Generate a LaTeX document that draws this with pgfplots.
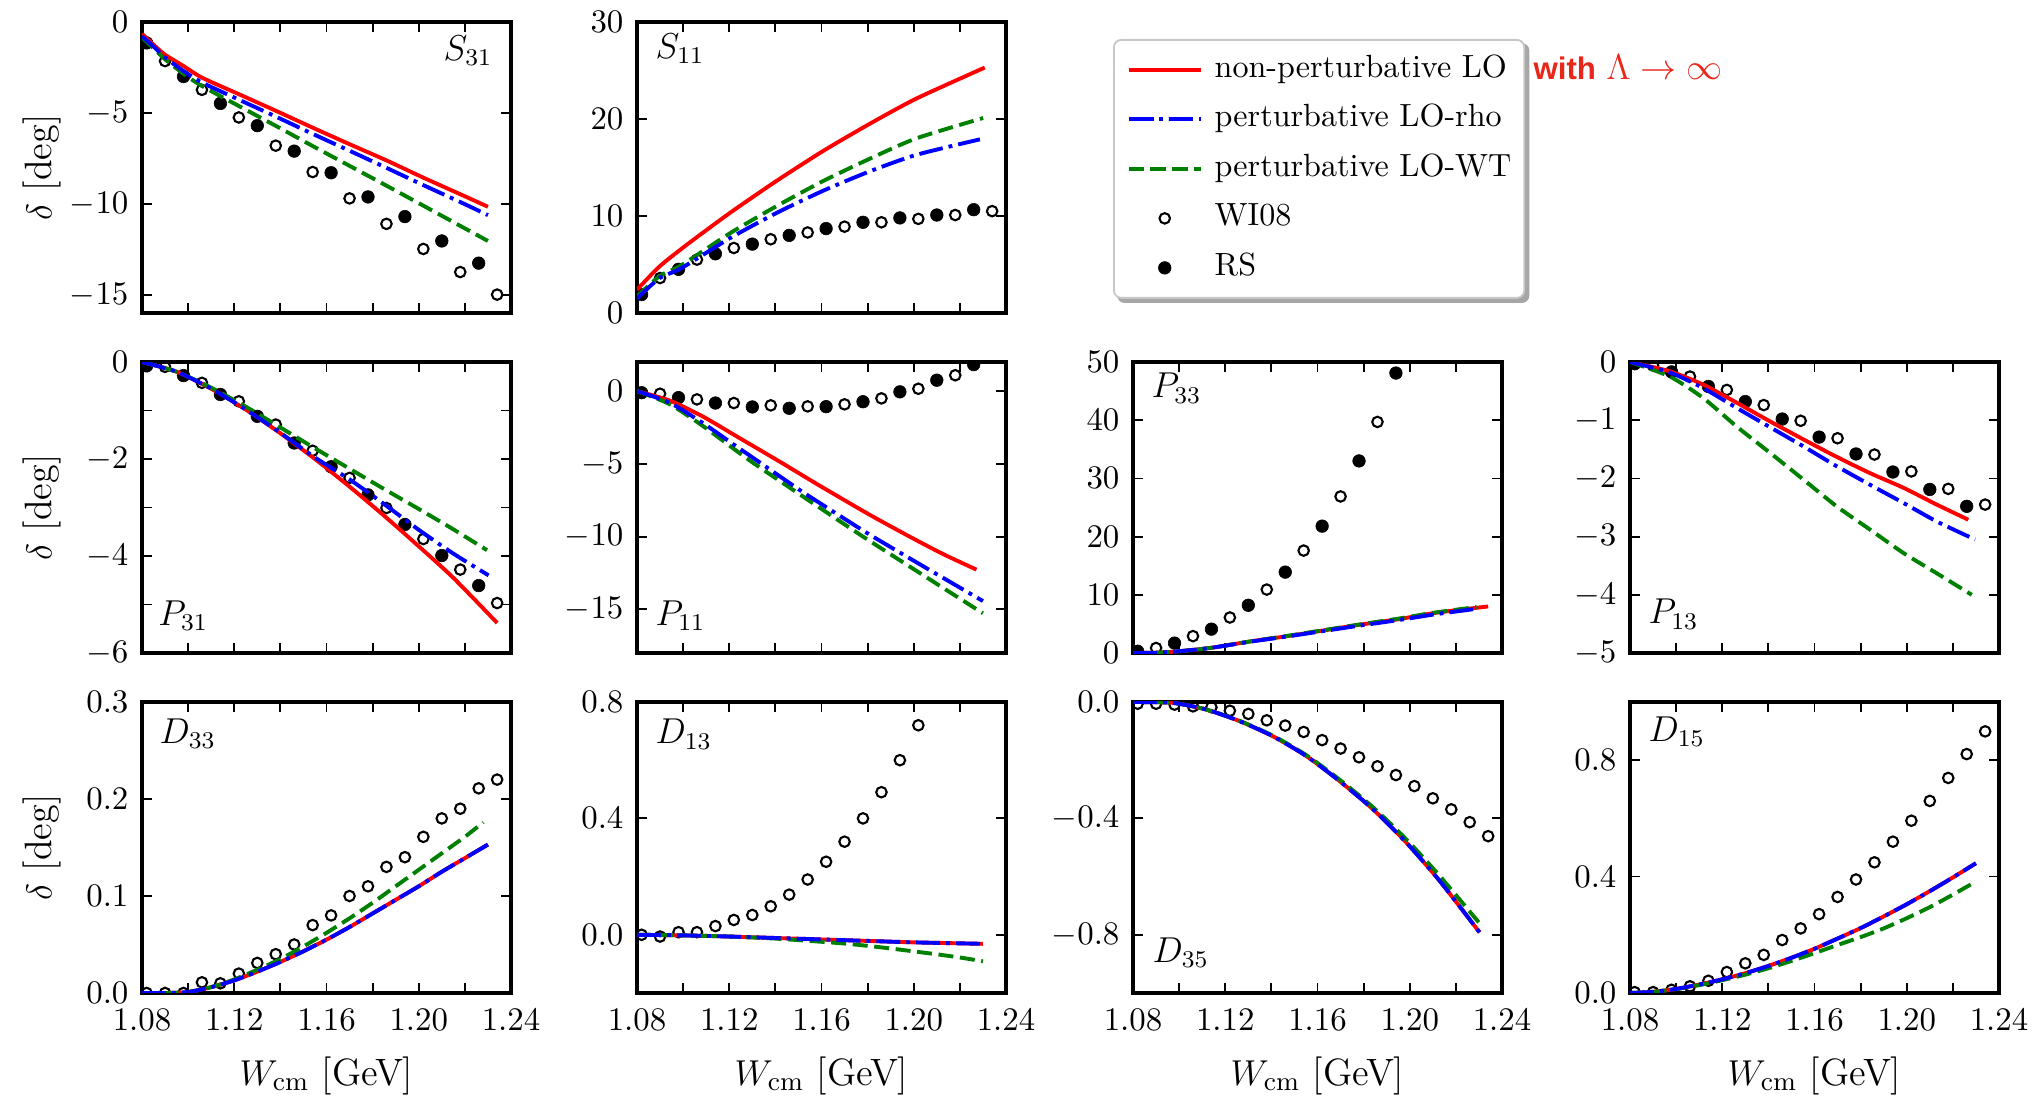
\documentclass[border=0pt]{standalone}
\usepackage{fontspec}
\usepackage{pgfplots}
\pgfplotsset{compat=1.18}
\newfontfamily\notesans{Liberation Sans}
\definecolor{mplgreen}{rgb}{0,0.5,0}
\definecolor{notered}{RGB}{232,38,26}
\pgfdeclarelayer{background}
\pgfsetlayers{background,main}

\pgfplotsset{
  panel/.style={
    scale only axis, width=123pt, height=97pt, anchor=south west,
    xmin=1.08, xmax=1.24,
    xtick={1.08,1.12,1.16,1.20,1.24},
    minor xtick={1.10,1.14,1.18,1.22},
    xticklabel style={yshift=-2pt, inner xsep=1pt, /pgf/number format/fixed,
      /pgf/number format/fixed zerofill, /pgf/number format/precision=2},
    yticklabel style={xshift=-1pt},
    tick align=inside, xtick pos=both, ytick pos=both,
    major tick length=3.3pt, minor tick length=3.3pt,
    tick style={black, line width=0.6pt},
    axis line style={line width=1.1pt},
    tick label style={font=\fontsize{10.8}{13}\selectfont},
    clip marker paths=true,
    every axis y label/.style={at={(axis description cs:-0.271,0.5)},
      rotate=90, anchor=center, inner sep=0pt, font=\fontsize{12.7}{15}\selectfont},
    every axis x label/.style={at={(axis description cs:0.5,-0.285)},
      anchor=center, inner sep=0pt, font=\fontsize{12.7}{15}\selectfont},
  },
  notop/.style={xticklabels={}},
  bottomrow/.style={xlabel={$W_{\rm cm}$ [GeV]}},
  onedec/.style={yticklabel style={/pgf/number format/fixed,
      /pgf/number format/fixed zerofill, /pgf/number format/precision=1}},
  rcurve/.style={color=red, line width=1.3pt, solid, no markers, smooth, tension=0.4},
  bcurve/.style={color=blue, line width=1.3pt, no markers, smooth, tension=0.4,
      dash pattern=on 8pt off 2pt on 1.3pt off 2pt},
  gcurve/.style={color=mplgreen, line width=1.3pt, no markers, smooth, tension=0.4,
      dash pattern=on 5pt off 2.2pt},
  wi/.style={only marks, mark=o, mark size=1.75pt,
      mark options={solid, draw=black, line width=0.7pt}},
  rs/.style={only marks, mark=*, mark size=2.1pt,
      mark options={solid, fill=black, draw=black, line width=0.2pt}},
}
\tikzset{lab/.style={inner sep=0pt, font=\fontsize{12}{14}\selectfont}}

\begin{document}
\begin{tikzpicture}
\path (0pt,0pt) rectangle (678pt,-365.67pt);

% ---------------- S31 ----------------
\begin{axis}[panel, notop, at={(47.33pt,-104.33pt)},
  ymin=-16, ymax=0, ytick={0,-5,-10,-15}, ylabel={$\delta$ [deg]}]
\addplot[wi] coordinates {(1.090,-2.15)(1.106,-3.73)(1.122,-5.25)(1.138,-6.8)(1.154,-8.25)
  (1.170,-9.7)(1.186,-11.1)(1.202,-12.48)(1.218,-13.75)(1.234,-14.99)};
\addplot[rs] coordinates {(1.082,-1.15)(1.098,-3.0)(1.114,-4.48)(1.130,-5.7)(1.146,-7.1)
  (1.162,-8.29)(1.178,-9.62)(1.194,-10.7)(1.210,-12.04)(1.226,-13.26)};
\addplot[rcurve] coordinates {(1.080,-0.65)(1.085,-1.25)(1.090,-1.80)(1.098,-2.42)(1.106,-3.06)
  (1.122,-3.97)(1.138,-4.88)(1.154,-5.81)(1.170,-6.72)(1.186,-7.61)(1.202,-8.56)(1.218,-9.47)(1.230,-10.16)};
\addplot[gcurve] coordinates {(1.080,-0.85)(1.085,-1.45)(1.090,-2.05)(1.098,-2.85)(1.106,-3.52)
  (1.122,-4.62)(1.138,-5.71)(1.154,-6.82)(1.170,-7.91)(1.186,-9.0)(1.202,-10.1)(1.218,-11.21)(1.230,-12.04)};
\addplot[bcurve] coordinates {(1.080,-0.78)(1.085,-1.35)(1.090,-1.95)(1.098,-2.70)(1.106,-3.33)
  (1.122,-4.27)(1.138,-5.20)(1.154,-6.15)(1.170,-7.08)(1.186,-8.02)(1.202,-8.97)(1.218,-9.90)(1.230,-10.62)};
\node[lab, anchor=north east, xshift=-6pt, yshift=-4.3pt] at (rel axis cs:1,1) {$S_{31}$};
\end{axis}

% ---------------- S11 (carries the legend) ----------------
\begin{axis}[panel, notop, at={(212.33pt,-104.33pt)},
  ymin=0, ymax=30, ytick={0,10,20,30},
  legend image code/.code={\draw[mark repeat=2,mark phase=2,#1]
     plot coordinates {(0pt,0pt) (12pt,0pt) (24pt,0pt)};},
  legend cell align=left,
  legend style={name=lgd, at={(1.29,0.9416)}, anchor=north west,
    draw=black!22, line width=0.6pt, fill=white, rounded corners=2.5pt,
    font=\fontsize{10.7}{12}\selectfont,
    inner xsep=4.3pt, inner ysep=5pt, row sep=6.5pt, column sep=4pt,
    nodes={inner sep=0pt, text height=7.5pt, text depth=2.5pt}}]
\addlegendimage{rcurve}\addlegendentry{non-perturbative LO}
\addlegendimage{bcurve}\addlegendentry{perturbative LO-rho}
\addlegendimage{gcurve}\addlegendentry{perturbative LO-WT}
\addlegendimage{wi}\addlegendentry{WI08}
\addlegendimage{rs}\addlegendentry{RS}
\addplot[wi, forget plot] coordinates {(1.090,3.6)(1.106,5.5)(1.122,6.7)(1.138,7.6)(1.154,8.3)
  (1.170,8.9)(1.186,9.35)(1.202,9.7)(1.218,10.1)(1.234,10.5)};
\addplot[rs, forget plot] coordinates {(1.082,1.9)(1.098,4.5)(1.114,6.1)(1.130,7.1)(1.146,8.0)
  (1.162,8.7)(1.178,9.35)(1.194,9.8)(1.210,10.1)(1.226,10.65)};
\addplot[rcurve, forget plot] coordinates {(1.080,2.4)(1.0898,4.8)(1.1014,7.0)(1.1202,10.3)(1.1404,13.6)
  (1.1607,16.7)(1.1809,19.5)(1.2011,22.1)(1.2308,25.3)};
\addplot[gcurve, forget plot] coordinates {(1.080,1.7)(1.0898,3.8)(1.0991,4.9)(1.1202,8.2)(1.1404,11.0)
  (1.1607,13.6)(1.1809,15.9)(1.2011,18.0)(1.2301,20.1)};
\addplot[bcurve, forget plot] coordinates {(1.080,1.5)(1.0898,3.6)(1.0991,4.6)(1.1202,7.7)(1.1404,10.3)
  (1.1607,12.6)(1.1809,14.6)(1.2011,16.3)(1.2287,17.9)};
\node[lab, anchor=north west, xshift=6pt, yshift=-3.7pt] at (rel axis cs:0,1) {$S_{11}$};
\end{axis}

% shadow behind the legend box
\begin{pgfonlayer}{background}
\fill[black!35, rounded corners=2.5pt]
  ([xshift=1.4pt,yshift=-1.4pt]lgd.south west) rectangle ([xshift=1.4pt,yshift=-1.4pt]lgd.north east);
\end{pgfonlayer}

% ---------------- P31 ----------------
\begin{axis}[panel, notop, at={(47.33pt,-217.67pt)},
  ymin=-6, ymax=0, ytick={0,-2,-4,-6}, minor ytick={-1,-3,-5}, ylabel={$\delta$ [deg]}]
\addplot[wi] coordinates {(1.090,-0.10)(1.106,-0.43)(1.122,-0.81)(1.138,-1.29)(1.154,-1.83)
  (1.170,-2.39)(1.186,-3.01)(1.202,-3.65)(1.218,-4.28)(1.234,-4.97)};
\addplot[rs] coordinates {(1.082,-0.08)(1.098,-0.28)(1.114,-0.67)(1.130,-1.12)(1.146,-1.67)
  (1.162,-2.16)(1.178,-2.74)(1.194,-3.35)(1.210,-3.99)(1.226,-4.61)};
\addplot[rcurve] coordinates {(1.080,0)(1.095,-0.2)(1.110,-0.55)(1.125,-0.98)(1.140,-1.47)(1.155,-2.0)
  (1.170,-2.57)(1.185,-3.17)(1.200,-3.80)(1.215,-4.45)(1.234,-5.38)};
\addplot[gcurve] coordinates {(1.080,0)(1.095,-0.2)(1.110,-0.53)(1.125,-0.92)(1.140,-1.35)(1.155,-1.78)
  (1.170,-2.2)(1.185,-2.62)(1.200,-3.03)(1.215,-3.45)(1.2296,-3.88)};
\addplot[bcurve] coordinates {(1.080,0)(1.095,-0.2)(1.110,-0.55)(1.125,-0.98)(1.140,-1.46)(1.155,-1.97)
  (1.170,-2.42)(1.185,-2.93)(1.200,-3.46)(1.215,-3.95)(1.2303,-4.40)};
\node[lab, anchor=base west, xshift=5.3pt, yshift=9.3pt] at (rel axis cs:0,0) {$P_{31}$};
\end{axis}

% ---------------- P11 ----------------
\begin{axis}[panel, notop, at={(212.33pt,-217.67pt)},
  ymin=-18, ymax=2, ytick={0,-5,-10,-15}]
\addplot[wi] coordinates {(1.090,-0.18)(1.106,-0.57)(1.122,-0.82)(1.138,-0.98)(1.154,-1.05)
  (1.170,-0.91)(1.186,-0.5)(1.202,0.16)(1.218,1.09)};
\addplot[rs] coordinates {(1.082,-0.11)(1.098,-0.45)(1.114,-0.82)(1.130,-1.09)(1.146,-1.18)
  (1.162,-1.07)(1.178,-0.73)(1.194,-0.05)(1.210,0.75)(1.226,1.82)};
\addplot[rcurve] coordinates {(1.080,0)(1.0942,-0.65)(1.1086,-1.75)(1.1231,-3.1)(1.1419,-4.85)
  (1.1592,-6.5)(1.1809,-8.5)(1.1982,-10.0)(1.2127,-11.2)(1.2272,-12.27)};
\addplot[gcurve] coordinates {(1.080,0)(1.0942,-0.9)(1.1086,-2.4)(1.1231,-4.1)(1.131,-5.0)
  (1.152,-7.25)(1.178,-10.0)(1.2026,-12.5)(1.230,-15.27)};
\addplot[bcurve] coordinates {(1.080,0)(1.0942,-0.8)(1.1086,-2.2)(1.1231,-3.8)(1.1332,-4.9)
  (1.152,-6.95)(1.1737,-9.15)(1.1823,-10.0)(1.2026,-11.9)(1.230,-14.43)};
\node[lab, anchor=base west, xshift=6pt, yshift=9.3pt] at (rel axis cs:0,0) {$P_{11}$};
\end{axis}

% ---------------- P33 ----------------
\begin{axis}[panel, notop, at={(377.67pt,-217.67pt)},
  ymin=0, ymax=50, ytick={0,10,20,30,40,50}]
\addplot[wi] coordinates {(1.090,0.86)(1.106,2.9)(1.122,6.1)(1.138,10.9)(1.154,17.6)
  (1.170,26.9)(1.186,39.7)};
\addplot[rs] coordinates {(1.082,0.3)(1.098,1.7)(1.114,4.1)(1.130,8.2)(1.146,13.9)
  (1.162,21.8)(1.178,33.0)(1.194,48.1)};
\addplot[rcurve] coordinates {(1.080,0)(1.090,0.05)(1.100,0.3)(1.114,0.9)(1.131,2.0)(1.147,2.9)
  (1.163,3.9)(1.179,4.9)(1.195,5.8)(1.211,6.9)(1.234,8.0)};
\addplot[gcurve] coordinates {(1.080,0)(1.090,0.05)(1.100,0.3)(1.114,0.9)(1.131,2.0)(1.147,2.95)
  (1.163,3.95)(1.179,4.95)(1.195,5.9)(1.211,6.95)(1.229,7.9)};
\addplot[bcurve] coordinates {(1.080,0)(1.090,0.05)(1.100,0.3)(1.114,0.9)(1.131,1.95)(1.147,2.85)
  (1.163,3.8)(1.179,4.75)(1.195,5.65)(1.211,6.65)(1.229,7.6)};
\node[lab, anchor=north west, xshift=6pt, yshift=-3.5pt] at (rel axis cs:0,1) {$P_{33}$};
\end{axis}

% ---------------- P13 ----------------
\begin{axis}[panel, notop, at={(543.33pt,-217.67pt)},
  ymin=-5, ymax=0, ytick={0,-1,-2,-3,-4,-5}]
\addplot[wi] coordinates {(1.090,-0.06)(1.106,-0.25)(1.122,-0.48)(1.138,-0.74)(1.154,-1.01)
  (1.170,-1.31)(1.186,-1.59)(1.202,-1.88)(1.218,-2.18)(1.234,-2.45)};
\addplot[rs] coordinates {(1.082,-0.03)(1.098,-0.17)(1.114,-0.42)(1.130,-0.68)(1.146,-0.98)
  (1.162,-1.29)(1.178,-1.58)(1.194,-1.89)(1.210,-2.19)(1.226,-2.48)};
\addplot[rcurve] coordinates {(1.080,0)(1.0973,-0.16)(1.1118,-0.39)(1.1263,-0.70)(1.1407,-1.02)
  (1.1552,-1.33)(1.1696,-1.63)(1.1841,-1.91)(1.1985,-2.16)(1.213,-2.45)(1.2267,-2.71)};
\addplot[gcurve] coordinates {(1.080,0)(1.0973,-0.25)(1.1118,-0.62)(1.1263,-1.11)(1.1407,-1.56)
  (1.1552,-2.02)(1.1696,-2.48)(1.1841,-2.88)(1.1985,-3.28)(1.213,-3.63)(1.2282,-4.0)};
\addplot[bcurve] coordinates {(1.080,0)(1.0973,-0.18)(1.1118,-0.45)(1.1263,-0.79)(1.1407,-1.12)
  (1.1552,-1.45)(1.1696,-1.79)(1.1841,-2.11)(1.1985,-2.42)(1.213,-2.74)(1.2296,-3.05)};
\node[lab, anchor=base west, xshift=6pt, yshift=9.8pt] at (rel axis cs:0,0) {$P_{13}$};
\end{axis}

% ---------------- D33 ----------------
\begin{axis}[panel, bottomrow, onedec, at={(47.33pt,-331pt)},
  ymin=0, ymax=0.3, ytick={0,0.1,0.2,0.3}, ylabel={$\delta$ [deg]}]
\addplot[wi] coordinates {(1.082,0.000)(1.090,0.000)(1.098,0.000)(1.106,0.011)(1.114,0.010)
  (1.122,0.020)(1.130,0.031)(1.138,0.040)(1.146,0.050)(1.154,0.070)(1.162,0.080)(1.170,0.100)
  (1.178,0.110)(1.186,0.130)(1.194,0.140)(1.202,0.161)(1.210,0.180)(1.218,0.190)(1.226,0.211)
  (1.234,0.220)(1.242,0.241)};
\addplot[rcurve] coordinates {(1.080,0)(1.090,0)(1.100,0.001)(1.110,0.006)(1.120,0.013)(1.130,0.022)
  (1.140,0.032)(1.150,0.043)(1.160,0.055)(1.170,0.068)(1.180,0.082)(1.190,0.096)(1.200,0.110)
  (1.210,0.125)(1.220,0.139)(1.230,0.153)};
\addplot[gcurve] coordinates {(1.080,0)(1.090,0)(1.100,0.001)(1.110,0.006)(1.120,0.014)(1.130,0.024)
  (1.140,0.035)(1.150,0.048)(1.160,0.062)(1.170,0.077)(1.180,0.093)(1.190,0.110)(1.200,0.127)
  (1.210,0.144)(1.220,0.161)(1.228,0.176)};
\addplot[bcurve] coordinates {(1.080,0)(1.090,0)(1.100,0.001)(1.110,0.006)(1.120,0.013)(1.130,0.022)
  (1.140,0.032)(1.150,0.043)(1.160,0.055)(1.170,0.068)(1.180,0.082)(1.190,0.096)(1.200,0.110)
  (1.210,0.125)(1.220,0.139)(1.230,0.153)};
\node[lab, anchor=north west, xshift=5.7pt, yshift=-5.3pt] at (rel axis cs:0,1) {$D_{33}$};
\end{axis}

% ---------------- D13 ----------------
\begin{axis}[panel, bottomrow, onedec, at={(212.33pt,-331pt)},
  ymin=-0.2, ymax=0.8, ytick={0,0.4,0.8}]
\addplot[wi] coordinates {(1.082,0.000)(1.090,-0.006)(1.098,0.009)(1.106,0.009)(1.114,0.030)
  (1.122,0.051)(1.130,0.068)(1.138,0.098)(1.146,0.138)(1.154,0.190)(1.162,0.251)(1.170,0.320)
  (1.178,0.400)(1.186,0.490)(1.194,0.600)(1.202,0.720)};
\addplot[rcurve] coordinates {(1.080,0)(1.100,-0.002)(1.120,-0.006)(1.140,-0.011)(1.160,-0.016)
  (1.180,-0.021)(1.200,-0.026)(1.230,-0.031)};
\addplot[gcurve] coordinates {(1.080,0)(1.100,-0.002)(1.120,-0.006)(1.140,-0.013)(1.160,-0.024)
  (1.170,-0.030)(1.180,-0.038)(1.190,-0.047)(1.200,-0.057)(1.210,-0.067)(1.220,-0.078)(1.230,-0.091)};
\addplot[bcurve] coordinates {(1.080,0)(1.100,-0.002)(1.120,-0.006)(1.140,-0.011)(1.160,-0.016)
  (1.180,-0.021)(1.200,-0.026)(1.230,-0.031)};
\node[lab, anchor=north west, xshift=6pt, yshift=-5.5pt] at (rel axis cs:0,1) {$D_{13}$};
\end{axis}

% ---------------- D35 ----------------
\begin{axis}[panel, bottomrow, onedec, at={(377.67pt,-331pt)},
  ymin=-1.0, ymax=0, ytick={0,-0.4,-0.8}]
\addplot[wi] coordinates {(1.082,-0.006)(1.090,-0.006)(1.098,-0.009)(1.106,-0.015)(1.114,-0.018)
  (1.122,-0.030)(1.130,-0.041)(1.138,-0.063)(1.146,-0.081)(1.154,-0.103)(1.162,-0.131)(1.170,-0.160)
  (1.178,-0.190)(1.186,-0.221)(1.194,-0.251)(1.202,-0.289)(1.210,-0.331)(1.218,-0.369)(1.226,-0.413)
  (1.234,-0.461)(1.242,-0.500)};
\addplot[rcurve] coordinates {(1.080,0)(1.0973,-0.003)(1.1118,-0.026)(1.1263,-0.066)(1.1407,-0.118)
  (1.1552,-0.186)(1.1696,-0.272)(1.1841,-0.369)(1.1985,-0.483)(1.213,-0.615)(1.2303,-0.792)};
\addplot[gcurve] coordinates {(1.080,0)(1.0973,-0.003)(1.1118,-0.026)(1.1263,-0.065)(1.1407,-0.116)
  (1.1552,-0.183)(1.1696,-0.267)(1.1841,-0.362)(1.1985,-0.472)(1.213,-0.598)(1.230,-0.758)};
\addplot[bcurve] coordinates {(1.080,0)(1.0973,-0.003)(1.1118,-0.026)(1.1263,-0.066)(1.1407,-0.118)
  (1.1552,-0.186)(1.1696,-0.272)(1.1841,-0.369)(1.1985,-0.483)(1.213,-0.615)(1.2303,-0.792)};
\node[lab, anchor=base west, xshift=6.3pt, yshift=10.3pt] at (rel axis cs:0,0) {$D_{35}$};
\end{axis}

% ---------------- D15 ----------------
\begin{axis}[panel, bottomrow, onedec, at={(543.33pt,-331pt)},
  ymin=0, ymax=1.0, ytick={0,0.4,0.8}]
\addplot[wi] coordinates {(1.082,0.003)(1.090,0.003)(1.098,0.011)(1.106,0.023)(1.114,0.042)
  (1.122,0.072)(1.130,0.102)(1.138,0.131)(1.146,0.182)(1.154,0.222)(1.162,0.271)(1.170,0.330)
  (1.178,0.390)(1.186,0.449)(1.194,0.520)(1.202,0.592)(1.210,0.660)(1.218,0.739)(1.226,0.821)
  (1.234,0.899)};
\addplot[rcurve] coordinates {(1.080,0)(1.090,0.004)(1.100,0.014)(1.110,0.029)(1.120,0.047)
  (1.130,0.068)(1.140,0.093)(1.150,0.121)(1.160,0.152)(1.170,0.187)(1.180,0.223)(1.190,0.263)
  (1.200,0.305)(1.210,0.350)(1.220,0.397)(1.230,0.446)};
\addplot[gcurve] coordinates {(1.080,0)(1.090,0.004)(1.100,0.013)(1.110,0.027)(1.120,0.044)
  (1.130,0.063)(1.140,0.085)(1.150,0.110)(1.160,0.137)(1.170,0.165)(1.180,0.192)(1.190,0.222)
  (1.200,0.257)(1.210,0.295)(1.220,0.338)(1.230,0.383)};
\addplot[bcurve] coordinates {(1.080,0)(1.090,0.004)(1.100,0.014)(1.110,0.029)(1.120,0.047)
  (1.130,0.068)(1.140,0.093)(1.150,0.121)(1.160,0.152)(1.170,0.187)(1.180,0.223)(1.190,0.263)
  (1.200,0.305)(1.210,0.350)(1.220,0.397)(1.230,0.446)};
\node[lab, anchor=north west, xshift=6pt, yshift=-4.7pt] at (rel axis cs:0,1) {$D_{15}$};
\end{axis}

% note beside the legend
\node[anchor=base west, inner sep=0pt, text=notered, font=\fontsize{10.4}{12}\selectfont]
  at (511pt,-26.67pt) {{\notesans\bfseries with} {\fontsize{12}{14}\selectfont$\Lambda\to\infty$}};
\end{tikzpicture}
\end{document}
